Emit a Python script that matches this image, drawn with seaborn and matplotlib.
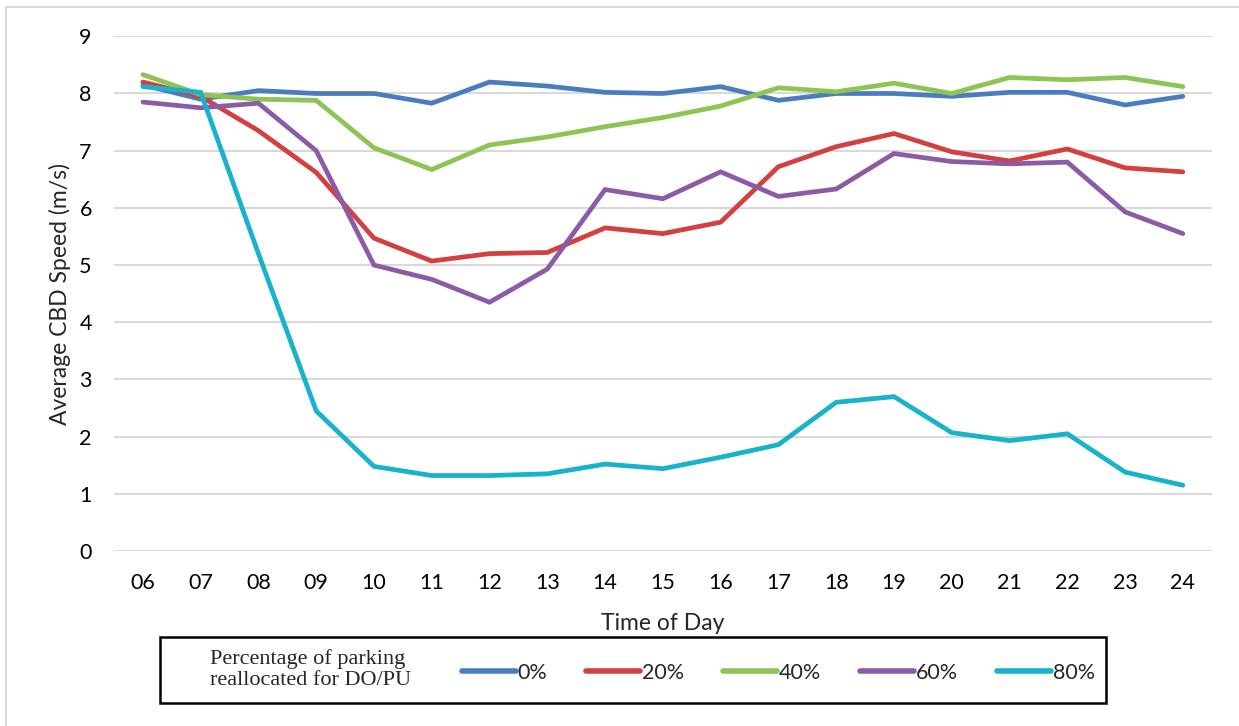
# %%
# Libraries
import pandas as pd
import seaborn as sns
import matplotlib.pyplot as plt
from matplotlib.lines import Line2D
from matplotlib.patches import Rectangle

# %%
# Data
hours = ["06", "07", "08", "09", "10", "11", "12", "13", "14", "15",
         "16", "17", "18", "19", "20", "21", "22", "23", "24"]
speed_0 = [8.15, 7.90, 8.05, 8.00, 8.00, 7.83, 8.20, 8.13, 8.02, 8.00,
           8.12, 7.88, 8.00, 8.00, 7.95, 8.02, 8.02, 7.80, 7.95]
speed_20 = [8.20, 7.95, 7.35, 6.62, 5.47, 5.07, 5.20, 5.22, 5.65, 5.55,
            5.75, 6.72, 7.07, 7.30, 6.98, 6.82, 7.03, 6.70, 6.63]
speed_40 = [8.33, 7.98, 7.90, 7.88, 7.05, 6.67, 7.10, 7.24, 7.42, 7.58,
            7.78, 8.10, 8.03, 8.18, 8.00, 8.28, 8.24, 8.28, 8.12]
speed_60 = [7.85, 7.75, 7.83, 7.00, 5.00, 4.75, 4.35, 4.93, 6.32, 6.16,
            6.63, 6.20, 6.33, 6.95, 6.81, 6.77, 6.80, 5.93, 5.55]
speed_80 = [8.12, 8.02, 5.20, 2.45, 1.48, 1.32, 1.32, 1.35, 1.52, 1.44,
            1.64, 1.86, 2.60, 2.70, 2.07, 1.93, 2.05, 1.38, 1.15]
scenarios = ["0%", "20%", "40%", "60%", "80%"]
colors = ["#4a7dc0", "#d43f40", "#8dc453", "#8c5ba8", "#17b2cc"]

# long-form table for seaborn
frames = []
for name, vals in zip(scenarios, [speed_0, speed_20, speed_40, speed_60, speed_80]):
    frames.append(pd.DataFrame({"hour": hours, "speed": vals, "scenario": name}))
df = pd.concat(frames, ignore_index=True)

# %%
sns.set_style("white")
plt.rcParams['font.family'] = ['Lato', 'DejaVu Sans']
size = 15.5

fig = plt.figure(figsize=(12.39, 7.26), dpi=100)
ax = fig.add_axes([0.092, 0.241, 0.886, 0.709])

sns.lineplot(data=df, x="hour", y="speed", hue="scenario", hue_order=scenarios,
             palette=colors, linewidth=3.4, legend=False, ax=ax,
             solid_capstyle="round", solid_joinstyle="miter")

ax.set_ylim(0, 9)
ax.set_xlim(-0.5, len(hours) - 0.5)
ax.set_yticks(range(0, 10))
ax.yaxis.grid(True, color="#d9d9d9", linewidth=1.5)
ax.set_axisbelow(True)
for s in ax.spines.values():
    s.set_visible(False)
ax.tick_params(axis='both', length=0, labelsize=size, colors="black")
ax.tick_params(axis='x', pad=16)
ax.tick_params(axis='y', pad=16)
ax.set_xlabel("Time of Day", fontsize=size + 1, labelpad=14)
ax.set_ylabel("Average CBD Speed (m/s)", fontsize=size + 1, labelpad=6)

# legend box below the plot
fig.patches.append(Rectangle((0.129, 0.0317), 0.764, 0.0909, transform=fig.transFigure,
                             fill=False, edgecolor="black", linewidth=1.8, zorder=5))
fig.text(0.1695, 0.078, "Percentage of parking\nreallocated for DO/PU",
         family="Liberation Serif", fontsize=16, ha="left", va="center", linespacing=1.1)
handles = [Line2D([0], [0], color=c, linewidth=4, solid_capstyle="round") for c in colors]
ax.legend(handles, scenarios, ncol=5, loc="center left", bbox_to_anchor=(0.357, 0.073),
          bbox_transform=fig.transFigure, frameon=False, fontsize=size,
          handlelength=2.5, handletextpad=0.1, columnspacing=1.8)

# thin gray frame around the figure (left and top visible)
fig.patches.append(Rectangle((6 / 1239, -0.1), 1.2, 1.1 - 7 / 726, transform=fig.transFigure,
                             fill=False, edgecolor="#d9d9d9", linewidth=1.5))

fig.savefig("out.png", dpi=100)
